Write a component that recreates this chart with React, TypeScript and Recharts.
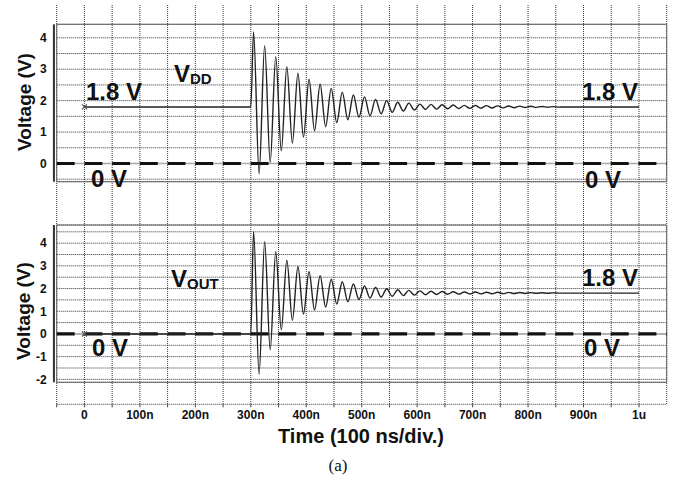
import React from "react";
import {
  CartesianGrid,
  Line,
  LineChart,
  ReferenceArea,
  ReferenceLine,
  XAxis,
  YAxis,
} from "recharts";

// time axis (ns), one grid line per 50 ns
const xTicks = [-50, 0, 50, 100, 150, 200, 250, 300, 350, 400, 450, 500, 550, 600, 650, 700, 750, 800, 850, 900, 950, 1000];
const xLabels: Record<number, string> = {
  0: "0",
  100: "100n",
  200: "200n",
  300: "300n",
  400: "400n",
  500: "500n",
  600: "600n",
  700: "700n",
  800: "800n",
  900: "900n",
  1000: "1u",
};

const vddTicks = [-0.5, 0, 0.5, 1, 1.5, 2, 2.5, 3, 3.5, 4];
const voutTicks = [-2, -1.5, -1, -0.5, 0, 0.5, 1, 1.5, 2, 2.5, 3, 3.5, 4, 4.5];

// sample times of the ringing (peaks / troughs), ns
const ringTime = [
  0, 300, 305, 315, 325, 335, 345, 355, 365, 375, 385, 395, 405, 415, 425, 435, 445, 455, 465, 475,
  485, 495, 505, 515, 525, 535, 545, 555, 565, 575, 585, 595, 605, 615, 625, 635, 645, 655, 665, 675,
  685, 695, 705, 715, 725, 735, 745, 755, 765, 775, 785, 795, 805, 815, 825, 835, 845, 855, 865, 1000,
];

const vddVolt = [
  1.8, 1.8, 4.19, -0.33, 3.75, 0.03, 3.4, 0.4, 3.08, 0.65, 2.87, 0.84, 2.68, 1.04, 2.52, 1.17, 2.39, 1.3, 2.27, 1.39,
  2.18, 1.47, 2.12, 1.52, 2.04, 1.58, 2.0, 1.63, 1.95, 1.67, 1.92, 1.7, 1.89, 1.72, 1.88, 1.73, 1.87, 1.74, 1.86, 1.75,
  1.85, 1.755, 1.845, 1.76, 1.84, 1.765, 1.835, 1.77, 1.83, 1.775, 1.825, 1.78, 1.82, 1.785, 1.815, 1.79, 1.81, 1.795, 1.8, 1.8,
];

const voutVolt = [
  0, 0, 4.52, -1.77, 4.06, -0.7, 3.62, 0.18, 3.25, 0.6, 2.97, 0.88, 2.74, 1.06, 2.57, 1.18, 2.41, 1.32, 2.3, 1.42,
  2.2, 1.52, 2.11, 1.58, 2.05, 1.62, 1.99, 1.66, 1.95, 1.69, 1.92, 1.71, 1.9, 1.73, 1.88, 1.74, 1.87, 1.75, 1.86, 1.755,
  1.85, 1.76, 1.845, 1.765, 1.84, 1.77, 1.835, 1.775, 1.83, 1.78, 1.825, 1.785, 1.82, 1.79, 1.815, 1.795, 1.81, 1.8, 1.8, 1.8,
];

const FONT = "'Liberation Sans', Arial, sans-serif";
const W = 676;
const H = 480;
const GRID = "#333";
const DOTS = "1 1";

const vddData = ringTime.map((t, i) => ({ t, v: vddVolt[i] }));
const voutData = ringTime.map((t, i) => ({ t, v: voutVolt[i] }));

const StartMark = (props: any) => {
  const { cx, cy, index } = props;
  if (index !== 0 || cx == null) return <g key={`d${index}`} />;
  const s = 2.5;
  return (
    <path
      key="mark"
      d={`M${cx - s},${cy - s}L${cx + s},${cy + s}M${cx - s},${cy + s}L${cx + s},${cy - s}`}
      stroke="#555"
      strokeWidth={1.2}
    />
  );
};

interface PanelProps {
  data: { t: number; v: number }[];
  domain: [number, number];
  ticks: number[];
  top: number;
  bottom: number;
}

function Panel({ data, domain, ticks, top, bottom }: PanelProps) {
  return (
    <div style={{ position: "absolute", left: 0, top: 0 }}>
      <LineChart
        width={W}
        height={H}
        data={data}
        margin={{ top, right: 9.3, bottom: H - bottom, left: 6.7 }}
      >
        <CartesianGrid vertical={false} stroke={GRID} strokeDasharray={DOTS} />
        <XAxis dataKey="t" type="number" domain={[-50, 1050]} allowDataOverflow hide />
        <YAxis
          type="number"
          domain={domain}
          ticks={ticks}
          interval={0}
          allowDataOverflow
          width={50}
          axisLine={false}
          tickLine={false}
          tickSize={0}
          tickMargin={10}
          tickFormatter={(v: number) => (Number.isInteger(v) ? String(v) : "")}
          tick={{ fill: "#111", fontSize: 12, fontWeight: 700, fontFamily: FONT }}
        />
        <ReferenceArea
          x1={-50}
          x2={1050}
          y1={domain[0]}
          y2={domain[1]}
          fill="none"
          stroke="#666"
          strokeWidth={1}
        />
        <ReferenceLine
          segment={[
            { x: -55, y: domain[0] },
            { x: -55, y: domain[1] },
          ]}
          ifOverflow="visible"
          stroke="#333"
          strokeWidth={2}
        />
        <ReferenceLine y={0} stroke="#aaa" strokeWidth={1.5} />
        <ReferenceLine y={0} stroke="#111" strokeWidth={3.2} strokeDasharray="18 9.7" />
        <Line
          type="monotone"
          dataKey="v"
          stroke="#222"
          strokeWidth={1.4}
          dot={StartMark}
          activeDot={false}
          isAnimationActive={false}
        />
      </LineChart>
    </div>
  );
}

export default function App() {
  const bigText = { fontFamily: FONT, fontWeight: 700, fontSize: 24, fill: "#111" } as const;
  return (
    <div style={{ position: "absolute", left: 0, top: 0, width: W, height: H, background: "#fff" }}>
      {/* time axis and the vertical grid that runs through both panels */}
      <div style={{ position: "absolute", left: 0, top: 0 }}>
        <LineChart
          width={W}
          height={H}
          data={xTicks.map((t) => ({ t }))}
          margin={{ top: 5, right: 9.3, bottom: 45.7, left: 56.7 }}
        >
          <CartesianGrid horizontal={false} stroke={GRID} strokeDasharray={DOTS} />
          <XAxis
            dataKey="t"
            type="number"
            domain={[-50, 1050]}
            ticks={xTicks}
            interval={0}
            height={30}
            axisLine={{ stroke: "#333", strokeDasharray: DOTS }}
            tickLine={{ stroke: "#444" }}
            tickSize={3}
            tickMargin={3}
            tickFormatter={(v: number) => xLabels[v] ?? ""}
            tick={{ fill: "#111", fontSize: 12, fontWeight: 700, fontFamily: FONT }}
          />
          <YAxis hide domain={[0, 1]} />
        </LineChart>
      </div>

      <Panel data={vddData} domain={[-0.58, 4.43]} ticks={vddTicks} top={24.3} bottom={181.7} />
      <Panel data={voutData} domain={[-2.13, 4.8]} ticks={voutTicks} top={225} bottom={382.3} />

      <svg width={W} height={H} style={{ position: "absolute", left: 0, top: 0 }}>
        <text
          transform="translate(24,102) rotate(-90)"
          textAnchor="middle"
          dominantBaseline="central"
          style={{ fontFamily: FONT, fontWeight: 700, fontSize: 19, fill: "#111" }}
        >
          Voltage (V)
        </text>
        <text
          transform="translate(23,311) rotate(-90)"
          textAnchor="middle"
          dominantBaseline="central"
          style={{ fontFamily: FONT, fontWeight: 700, fontSize: 19, fill: "#111" }}
        >
          Voltage (V)
        </text>

        <text x={86} y={100} style={bigText}>1.8 V</text>
        <text x={174} y={82} style={{ ...bigText, fontSize: 24 }}>
          V<tspan fontSize={15} dy={1.5}>DD</tspan>
        </text>
        <text x={91} y={187} style={bigText}>0 V</text>
        <text x={638} y={100} textAnchor="end" style={bigText}>1.8 V</text>
        <text x={585} y={188} style={bigText}>0 V</text>

        <text x={171} y={286.5} style={{ ...bigText, fontSize: 24 }}>
          V<tspan fontSize={15} dy={2.5}>OUT</tspan>
        </text>
        <text x={92} y={356} style={bigText}>0 V</text>
        <text x={638} y={286} textAnchor="end" style={bigText}>1.8 V</text>
        <text x={584} y={356} style={bigText}>0 V</text>

        <text
          x={361}
          y={442.5}
          textAnchor="middle"
          style={{ fontFamily: FONT, fontWeight: 700, fontSize: 20, fill: "#111" }}
        >
          Time (100 ns/div.)
        </text>
        <text
          x={338}
          y={471}
          textAnchor="middle"
          style={{ fontFamily: "'Liberation Serif', 'Times New Roman', serif", fontSize: 17, fill: "#111" }}
        >
          (a)
        </text>
      </svg>
    </div>
  );
}
